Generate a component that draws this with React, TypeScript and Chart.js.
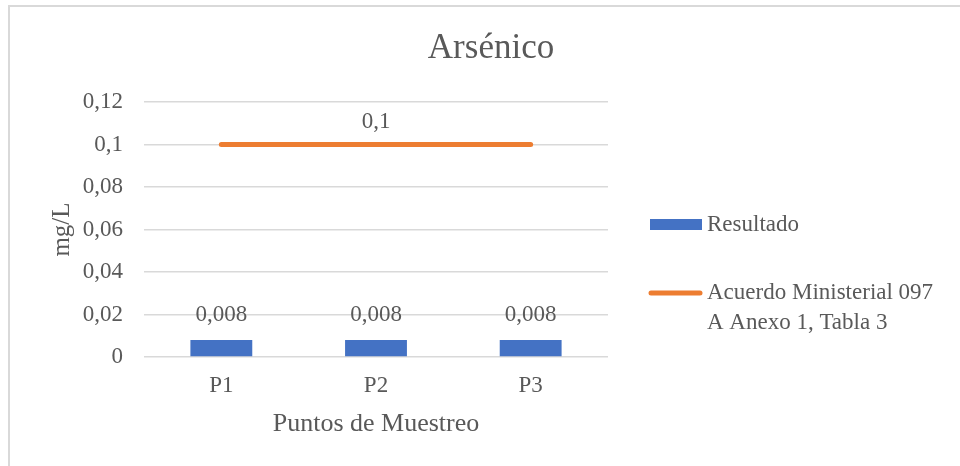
import React, { useEffect, useRef } from "react";
import { Chart, registerables } from "chart.js";

Chart.register(...registerables);

const categories = ["P1", "P2", "P3"];
const resultado = [0.008, 0.008, 0.008];
const limite = [0.1, 0.1, 0.1];
const yTicks = [0, 0.02, 0.04, 0.06, 0.08, 0.1, 0.12];
const seriesNames = ["Resultado", "Acuerdo Ministerial 097 A Anexo 1, Tabla 3"];
const legendLines = [["Resultado"], ["Acuerdo Ministerial 097", "A Anexo 1, Tabla 3"]];
const limitLabelIndex = [1];
const titleText = "Arsénico";
const xTitle = "Puntos de Muestreo";
const yTitle = "mg/L";

const FONT = "'Liberation Serif', 'Times New Roman', serif";
const TEXT = "#595959";
const GRID = "#d9d9d9";
const BLUE = "#4472C4";
const ORANGE = "#ED7D31";

const fmt = (v: number) => String(+Number(v).toFixed(4)).replace(".", ",");

const overlay = {
  id: "overlay",
  afterDatasetsDraw(chart: any) {
    const ctx = chart.ctx;
    ctx.save();
    ctx.fillStyle = TEXT;
    ctx.font = `23px ${FONT}`;
    ctx.textAlign = "center";
    ctx.textBaseline = "middle";
    const barMeta = chart.getDatasetMeta(0);
    barMeta.data.forEach((el: any, i: number) => {
      ctx.fillText(fmt(resultado[i]), el.x, el.y - 25);
    });
    const lineMeta = chart.getDatasetMeta(1);
    limitLabelIndex.forEach((i) => {
      const el = lineMeta.data[i];
      if (el) ctx.fillText(fmt(limite[i]), el.x, el.y - 23);
    });
    ctx.restore();
  },
  afterDraw(chart: any) {
    const ctx = chart.ctx;
    ctx.save();
    // title
    ctx.fillStyle = TEXT;
    ctx.font = `35px ${FONT}`;
    ctx.textAlign = "center";
    ctx.textBaseline = "alphabetic";
    ctx.fillText(titleText, 491, 58);
    // legend
    ctx.font = `23px ${FONT}`;
    ctx.textAlign = "left";
    ctx.textBaseline = "middle";
    ctx.fillStyle = BLUE;
    ctx.fillRect(650, 219, 52, 11);
    ctx.fillStyle = TEXT;
    legendLines[0].forEach((t, k) => ctx.fillText(t, 707, 225 + k * 30));
    ctx.strokeStyle = ORANGE;
    ctx.lineWidth = 5;
    ctx.lineCap = "round";
    ctx.beginPath();
    ctx.moveTo(651, 293);
    ctx.lineTo(700, 293);
    ctx.stroke();
    legendLines[1].forEach((t, k) => ctx.fillText(t, 707, 293 + k * 30));
    ctx.restore();
  },
};

export default function App() {
  const ref = useRef<HTMLCanvasElement | null>(null);
  useEffect(() => {
    document.body.style.margin = "0";
    const canvas = ref.current!;
    const chart = new Chart(canvas, {
      type: "bar",
      data: {
        labels: categories,
        datasets: [
          {
            type: "bar",
            label: seriesNames[0],
            data: resultado,
            backgroundColor: BLUE,
            barPercentage: 0.4,
            categoryPercentage: 1,
            order: 1,
          },
          {
            type: "line",
            label: seriesNames[1],
            data: limite,
            borderColor: ORANGE,
            backgroundColor: ORANGE,
            borderWidth: 5,
            borderCapStyle: "round",
            pointRadius: 0,
            pointHoverRadius: 0,
            order: 0,
          },
        ],
      } as any,
      options: {
        responsive: false,
        animation: false,
        devicePixelRatio: 1,
        layout: { padding: { left: 40, top: 102, right: 352, bottom: 20 } },
        plugins: {
          legend: { display: false },
          title: { display: false },
          tooltip: { enabled: false },
        },
        scales: {
          x: {
            grid: { display: false, drawTicks: false },
            border: { display: false },
            ticks: { color: TEXT, font: { family: FONT, size: 23 }, padding: 15 },
            title: {
              display: true,
              text: xTitle,
              color: TEXT,
              font: { family: FONT, size: 26 },
              padding: { top: 0, bottom: 6 },
            },
            afterFit: (s: any) => {
              s.height = 89;
            },
          },
          y: {
            min: 0,
            max: 0.12,
            grid: { color: GRID, lineWidth: 1.5, drawTicks: false },
            border: { display: false },
            afterBuildTicks: (s: any) => {
              s.ticks = yTicks.map((v) => ({ value: v }));
            },
            ticks: {
              color: TEXT,
              font: { family: FONT, size: 23 },
              padding: 21,
              callback: (v: any) => fmt(Number(v)),
            },
            title: {
              display: true,
              text: yTitle,
              color: TEXT,
              font: { family: FONT, size: 25 },
              padding: { top: 7, bottom: 0 },
            },
            afterFit: (s: any) => {
              s.width = 104;
            },
          },
        },
      } as any,
      plugins: [overlay],
    });
    return () => chart.destroy();
  }, []);
  return (
    <div style={{ position: "relative", width: 960, height: 466, overflow: "hidden", background: "#fff" }}>
      <div
        style={{
          position: "absolute",
          left: 8,
          top: 5,
          width: 2000,
          height: 2000,
          borderTop: `2px solid ${GRID}`,
          borderLeft: `2px solid ${GRID}`,
        }}
      />
      <canvas ref={ref} width={960} height={466} style={{ position: "absolute", left: 0, top: 0, width: 960, height: 466 }} />
    </div>
  );
}
